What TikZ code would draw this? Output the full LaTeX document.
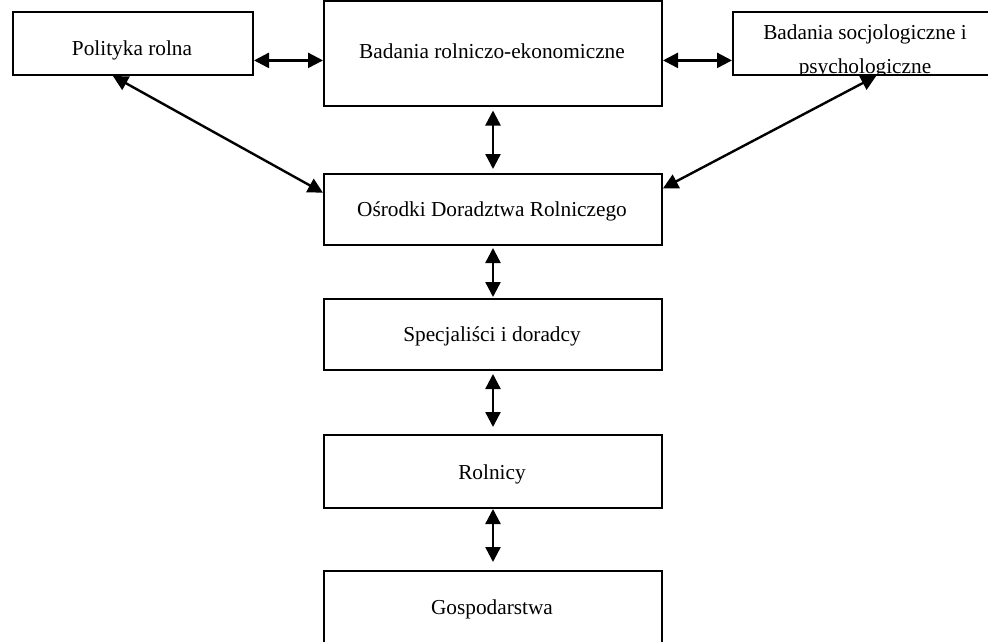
\documentclass[tikz,border=0pt]{standalone}
\usepackage{fontspec}
\setmainfont{Liberation Serif}
\usetikzlibrary{arrows.meta,calc}
\begin{document}
\begin{tikzpicture}[x=1pt,y=-1pt,
  box/.style={draw, line width=2pt, rectangle, inner sep=0pt, anchor=north west},
  lbl/.style={font=\fontsize{21.3}{33}\selectfont, inner sep=0pt, anchor=base},
  arr/.style={{Triangle[length=15pt,width=15pt]}-{Triangle[length=15pt,width=15pt]}, line width=2.4pt}]
\useasboundingbox (0,0) rectangle (988,642);
\clip (0,0) rectangle (988,642);
% boxes
\node[box, minimum width=240pt, minimum height=63pt] (b1) at (12,11) {};
\node[box, minimum width=338pt, minimum height=104pt] (b2) at (323,0.5) {};
\node[box, minimum width=268pt, minimum height=63pt] (b3) at (732,11) {};
\node[box, minimum width=338pt, minimum height=71pt] (b4) at (323,173) {};
\node[box, minimum width=338pt, minimum height=71pt] (b5) at (323,298) {};
\node[box, minimum width=338pt, minimum height=73pt] (b6) at (323,434) {};
\node[box, minimum width=338pt, minimum height=80pt] (b7) at (323,570) {};
% labels
\node[lbl] (t1) at (132,56) {Polityka rolna};
\node[lbl] (t2) at (492,59) {Badania rolniczo-ekonomiczne};
\begin{scope}
  \clip (b3.north west) rectangle (b3.south east);
  \node[lbl] (t3a) at (865,40) {Badania socjologiczne i};
  \node[lbl] (t3b) at (865,74) {psychologiczne};
\end{scope}
\node[lbl] (t4) at (492,216) {Ośrodki Doradztwa Rolniczego};
\node[lbl] (t5) at (492,341) {Specjaliści i doradcy};
\node[lbl] (t6) at (492,479) {Rolnicy};
\node[lbl] (t7) at (492,614) {Gospodarstwa};
% horizontal arrows
\coordinate (h1) at ($(b1.south east)!0.24!(b1.north east)$);
\draw[arr] (h1) -- (h1 -| b2.west);
\draw[arr] (h1 -| b2.east) -- (h1 -| b3.west);
% vertical arrows
\draw[arr, shorten <=4pt, shorten >=4pt] (b2.south) -- (b4.north);
\draw[arr, shorten <=2pt, shorten >=1pt] (b4.south) -- (b5.north);
\draw[arr, shorten <=3pt, shorten >=7pt] (b5.south) -- (b6.north);
\draw[arr, shorten <=0pt, shorten >=8pt] (b6.south) -- (b7.north);
% diagonal arrows
\coordinate (d1) at ($(b1.south west)!0.417!(b1.south east)$);
\coordinate (d2) at ($(b4.north west)!0.27!(b4.south west)$);
\coordinate (d3) at ($(b3.south west)!0.534!(b3.south east)$);
\coordinate (d4) at ($(b4.north east)!0.21!(b4.south east)$);
\draw[arr] (d1) -- (d2);
\draw[arr] (d3) -- (d4);
\end{tikzpicture}
\end{document}
